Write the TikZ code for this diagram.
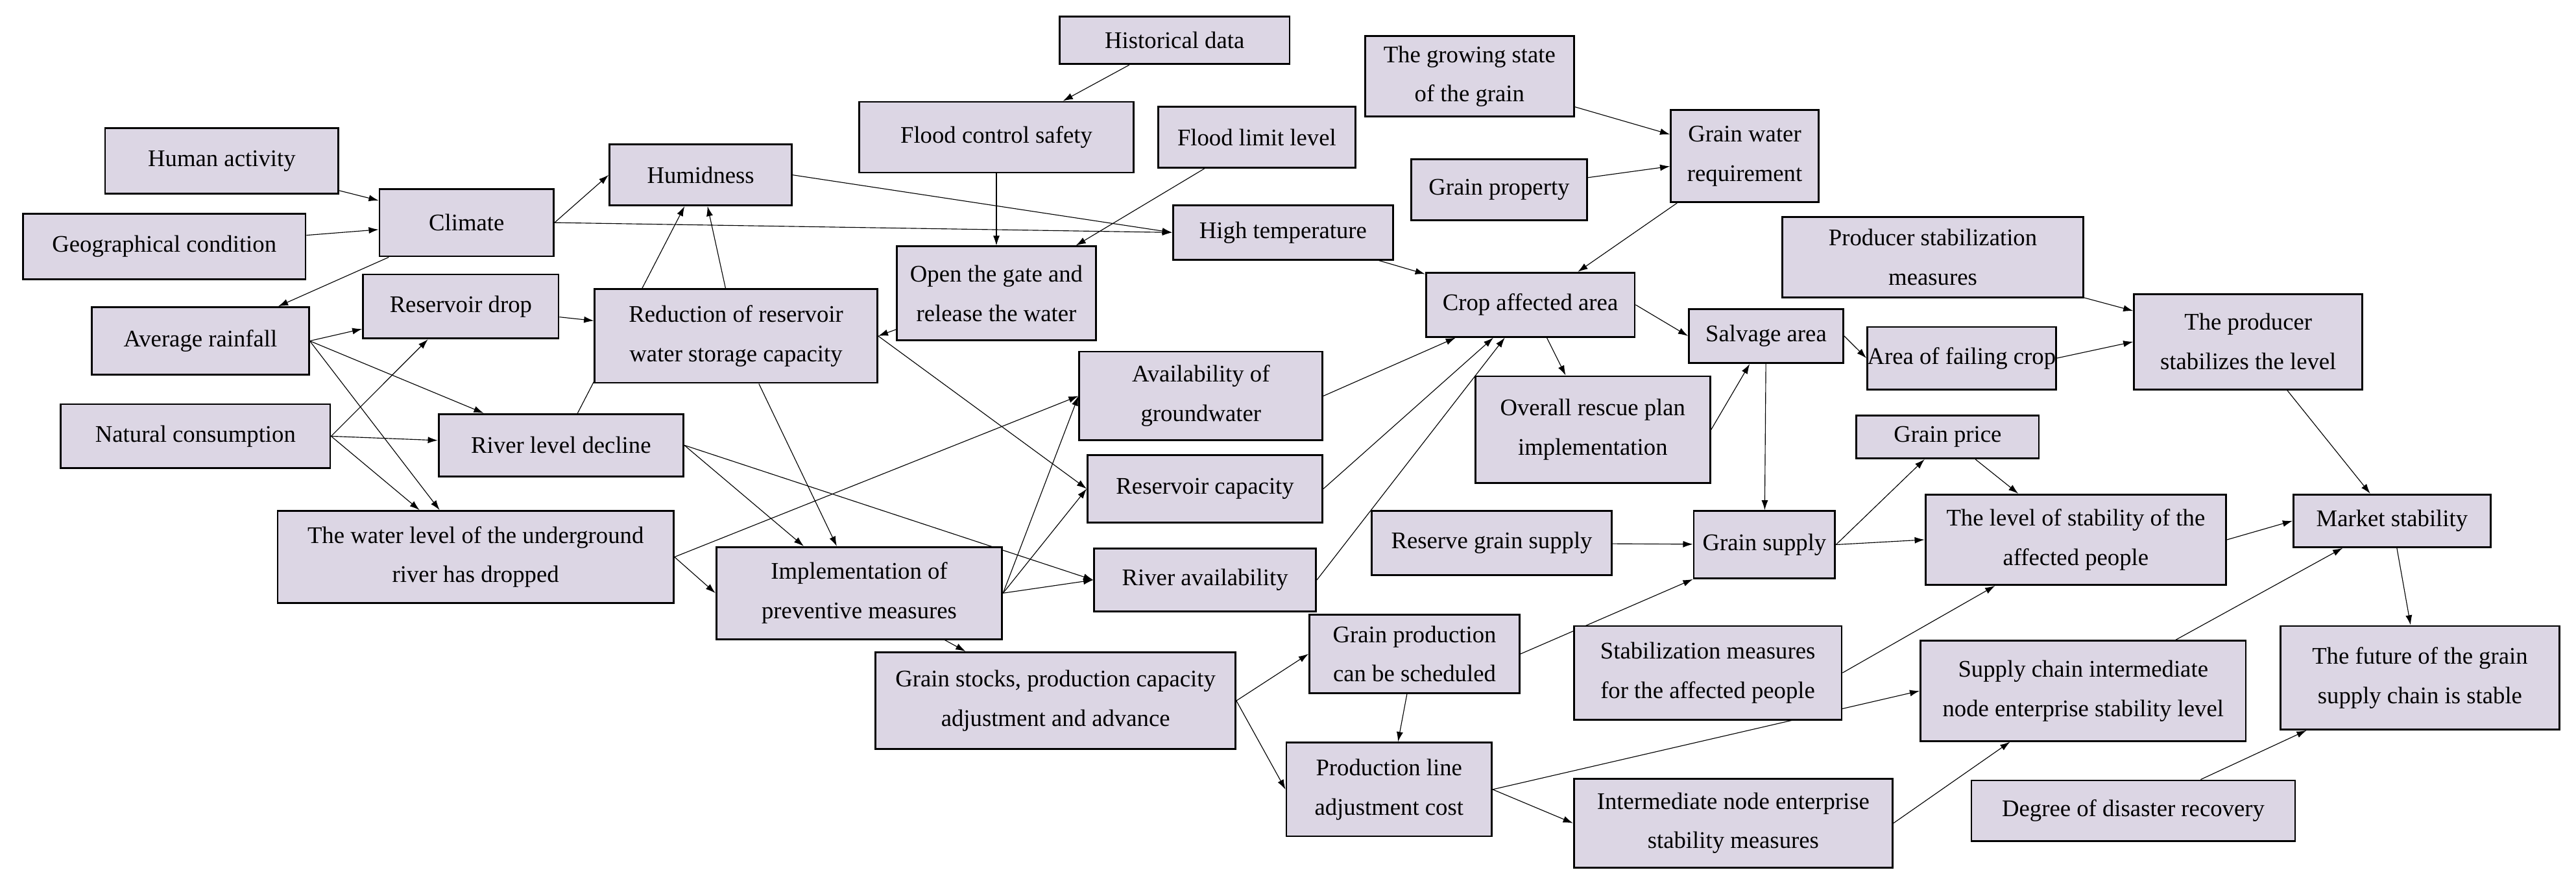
\documentclass[tikz,border=0pt]{standalone}
\usepackage{fontspec}
\setmainfont{Liberation Serif}
\usetikzlibrary{arrows.meta,backgrounds}
\definecolor{boxfill}{RGB}{220,214,228}
\newcommand\bx[6]{\node[box,minimum width={(#4-#2)*1pt},minimum height={(#5-#3)*1pt}] (#1) at ({(#2+#4)/2},{-(#3+#5)/2}) {#6};}
\begin{document}
\begin{tikzpicture}[x=1pt,y=1pt,
 box/.style={draw,line width=1.1pt,fill=boxfill,inner sep=0pt,align=center,font=\fontsize{14.5}{24}\selectfont},
 ar/.style={-{Latex[length=6pt,width=4pt]},line width=0.45pt}]
\useasboundingbox (0,0) rectangle (1568,-536);
\bx{hist}{645}{10}{785}{39}{Historical data}
\bx{grow}{831}{22}{958}{71}{The growing state\\of the grain}
\bx{fcs}{523}{62}{690}{105}{Flood control safety}
\bx{fll}{705}{65}{825}{102}{Flood limit level}
\bx{gwr}{1017}{67}{1107}{123}{Grain water\\requirement}
\bx{human}{64}{78}{206}{118}{Human activity}
\bx{humid}{371}{88}{482}{125}{Humidness}
\bx{gprop}{859}{97}{966}{134}{Grain property}
\bx{climate}{231}{115}{337}{156}{Climate}
\bx{geo}{14}{130}{186}{170}{Geographical condition}
\bx{hight}{714}{125}{848}{158}{High temperature}
\bx{psm}{1085}{132}{1268}{181}{Producer stabilization\\measures}
\bx{gate}{546}{150}{667}{207}{Open the gate and\\release the water}
\bx{crop}{868}{166}{995}{205}{Crop affected area}
\bx{rdrop}{221}{167}{340}{206}{Reservoir drop}
\bx{redu}{362}{176}{534}{233}{Reduction of reservoir\\water storage capacity}
\bx{rain}{56}{187}{188}{228}{Average rainfall}
\bx{prodlev}{1299}{179}{1438}{237}{The producer\\stabilizes the level}
\bx{salv}{1028}{188}{1122}{221}{Salvage area}
\bx{fail}{1137}{199}{1251}{237}{Area of failing crop}
\bx{gw}{657}{214}{805}{268}{Availability of\\groundwater}
\bx{rescue}{898}{229}{1041}{294}{Overall rescue plan\\implementation}
\bx{natural}{37}{246}{201}{285}{Natural consumption}
\bx{rld}{267}{252}{416}{290}{River level decline}
\bx{gprice}{1130}{253}{1241}{279}{Grain price}
\bx{rescap}{662}{277}{805}{318}{Reservoir capacity}
\bx{under}{169}{311}{410}{367}{The water level of the underground\\river has dropped}
\bx{reserve}{835}{311}{981}{350}{Reserve grain supply}
\bx{gsupply}{1031}{311}{1117}{352}{Grain supply}
\bx{lsap}{1172}{301}{1355}{356}{The level of stability of the\\affected people}
\bx{market}{1396}{301}{1516}{333}{Market stability}
\bx{impl}{436}{333}{610}{389}{Implementation of\\preventive measures}
\bx{rivav}{666}{334}{801}{372}{River availability}
\bx{gps}{797}{374}{925}{422}{Grain production\\can be scheduled}
\bx{sma}{958}{381}{1121}{438}{Stabilization measures\\for the affected people}
\bx{scl}{1169}{390}{1367}{451}{Supply chain intermediate\\node enterprise stability level}
\bx{future}{1388}{381}{1558}{444}{The future of the grain\\supply chain is stable}
\bx{stocks}{533}{397}{752}{456}{Grain stocks, production capacity\\adjustment and advance}
\bx{plc}{783}{452}{908}{509}{Production line\\adjustment cost}
\bx{inm}{958}{474}{1152}{528}{Intermediate node enterprise\\stability measures}
\bx{ddr}{1200}{475}{1397}{512}{Degree of disaster recovery}
\begin{pgfonlayer}{background}
\draw[ar] (hist) -- (fcs);
\draw[ar] (fcs) -- (gate);
\draw[ar] (fll) -- (gate);
\draw[ar] (human) -- (climate);
\draw[ar] (geo) -- (climate);
\draw[ar] (climate) -- (rain);
\draw[ar] (climate.east) -- (humid.west);
\draw[ar] (climate.east) -- (hight.west);
\draw[ar] (humid.east) -- (hight.west);
\draw[ar] (grow) -- (gwr);
\draw[ar] (gprop) -- (gwr);
\draw[ar] (gwr) -- (crop);
\draw[ar] (hight) -- (crop);
\draw[ar] (gate) -- (redu.east);
\draw[ar] (redu) -- (humid);
\draw[ar] (rld) -- (humid);
\draw[ar] (rdrop) -- (redu);
\draw[ar] (rain.east) -- (rdrop);
\draw[ar] (rain.east) -- (rld);
\draw[ar] (rain.east) -- (under);
\draw[ar] (natural.east) -- (rdrop);
\draw[ar] (natural.east) -- (rld);
\draw[ar] (natural.east) -- (under);
\draw[ar] (redu) -- (impl);
\draw[ar] (redu.east) -- (rescap.west);
\draw[ar] (rld.east) -- (impl);
\draw[ar] (rld.east) -- (rivav.west);
\draw[ar] (under.east) -- (gw.west);
\draw[ar] (under.east) -- (impl.west);
\draw[ar] (impl.east) -- (gw.west);
\draw[ar] (impl.east) -- (rescap.west);
\draw[ar] (impl.east) -- (rivav.west);
\draw[ar] (impl) -- (stocks);
\draw[ar] (gw.east) -- (crop);
\draw[ar] (rescap.east) -- (crop);
\draw[ar] (rivav.east) -- (crop);
\draw[ar] (crop.east) -- (salv.west);
\draw[ar] (crop) -- (rescue);
\draw[ar] (rescue.east) -- (salv);
\draw[ar] (salv.east) -- (fail.west);
\draw[ar] (salv) -- (gsupply);
\draw[ar] (fail.east) -- (prodlev.west);
\draw[ar] (psm) -- (prodlev);
\draw[ar] (prodlev) -- (market);
\draw[ar] (gsupply.east) -- (gprice);
\draw[ar] (gsupply.east) -- (lsap.west);
\draw[ar] (gprice) -- (lsap);
\draw[ar] (reserve) -- (gsupply);
\draw[ar] (gps.east) -- (gsupply.south west);
\draw[ar] (stocks.east) -- (gps.west);
\draw[ar] (stocks.east) -- (plc.west);
\draw[ar] (gps) -- (plc);
\draw[ar] (plc.east) -- (scl.west);
\draw[ar] (plc.east) -- (inm.west);
\draw[ar] (inm.east) -- (scl);
\draw[ar] (sma.east) -- (lsap);
\draw[ar] (lsap.east) -- (market.west);
\draw[ar] (scl) -- (market);
\draw[ar] (market) -- (future);
\draw[ar] (ddr) -- (future);
\end{pgfonlayer}
\end{tikzpicture}
\end{document}
